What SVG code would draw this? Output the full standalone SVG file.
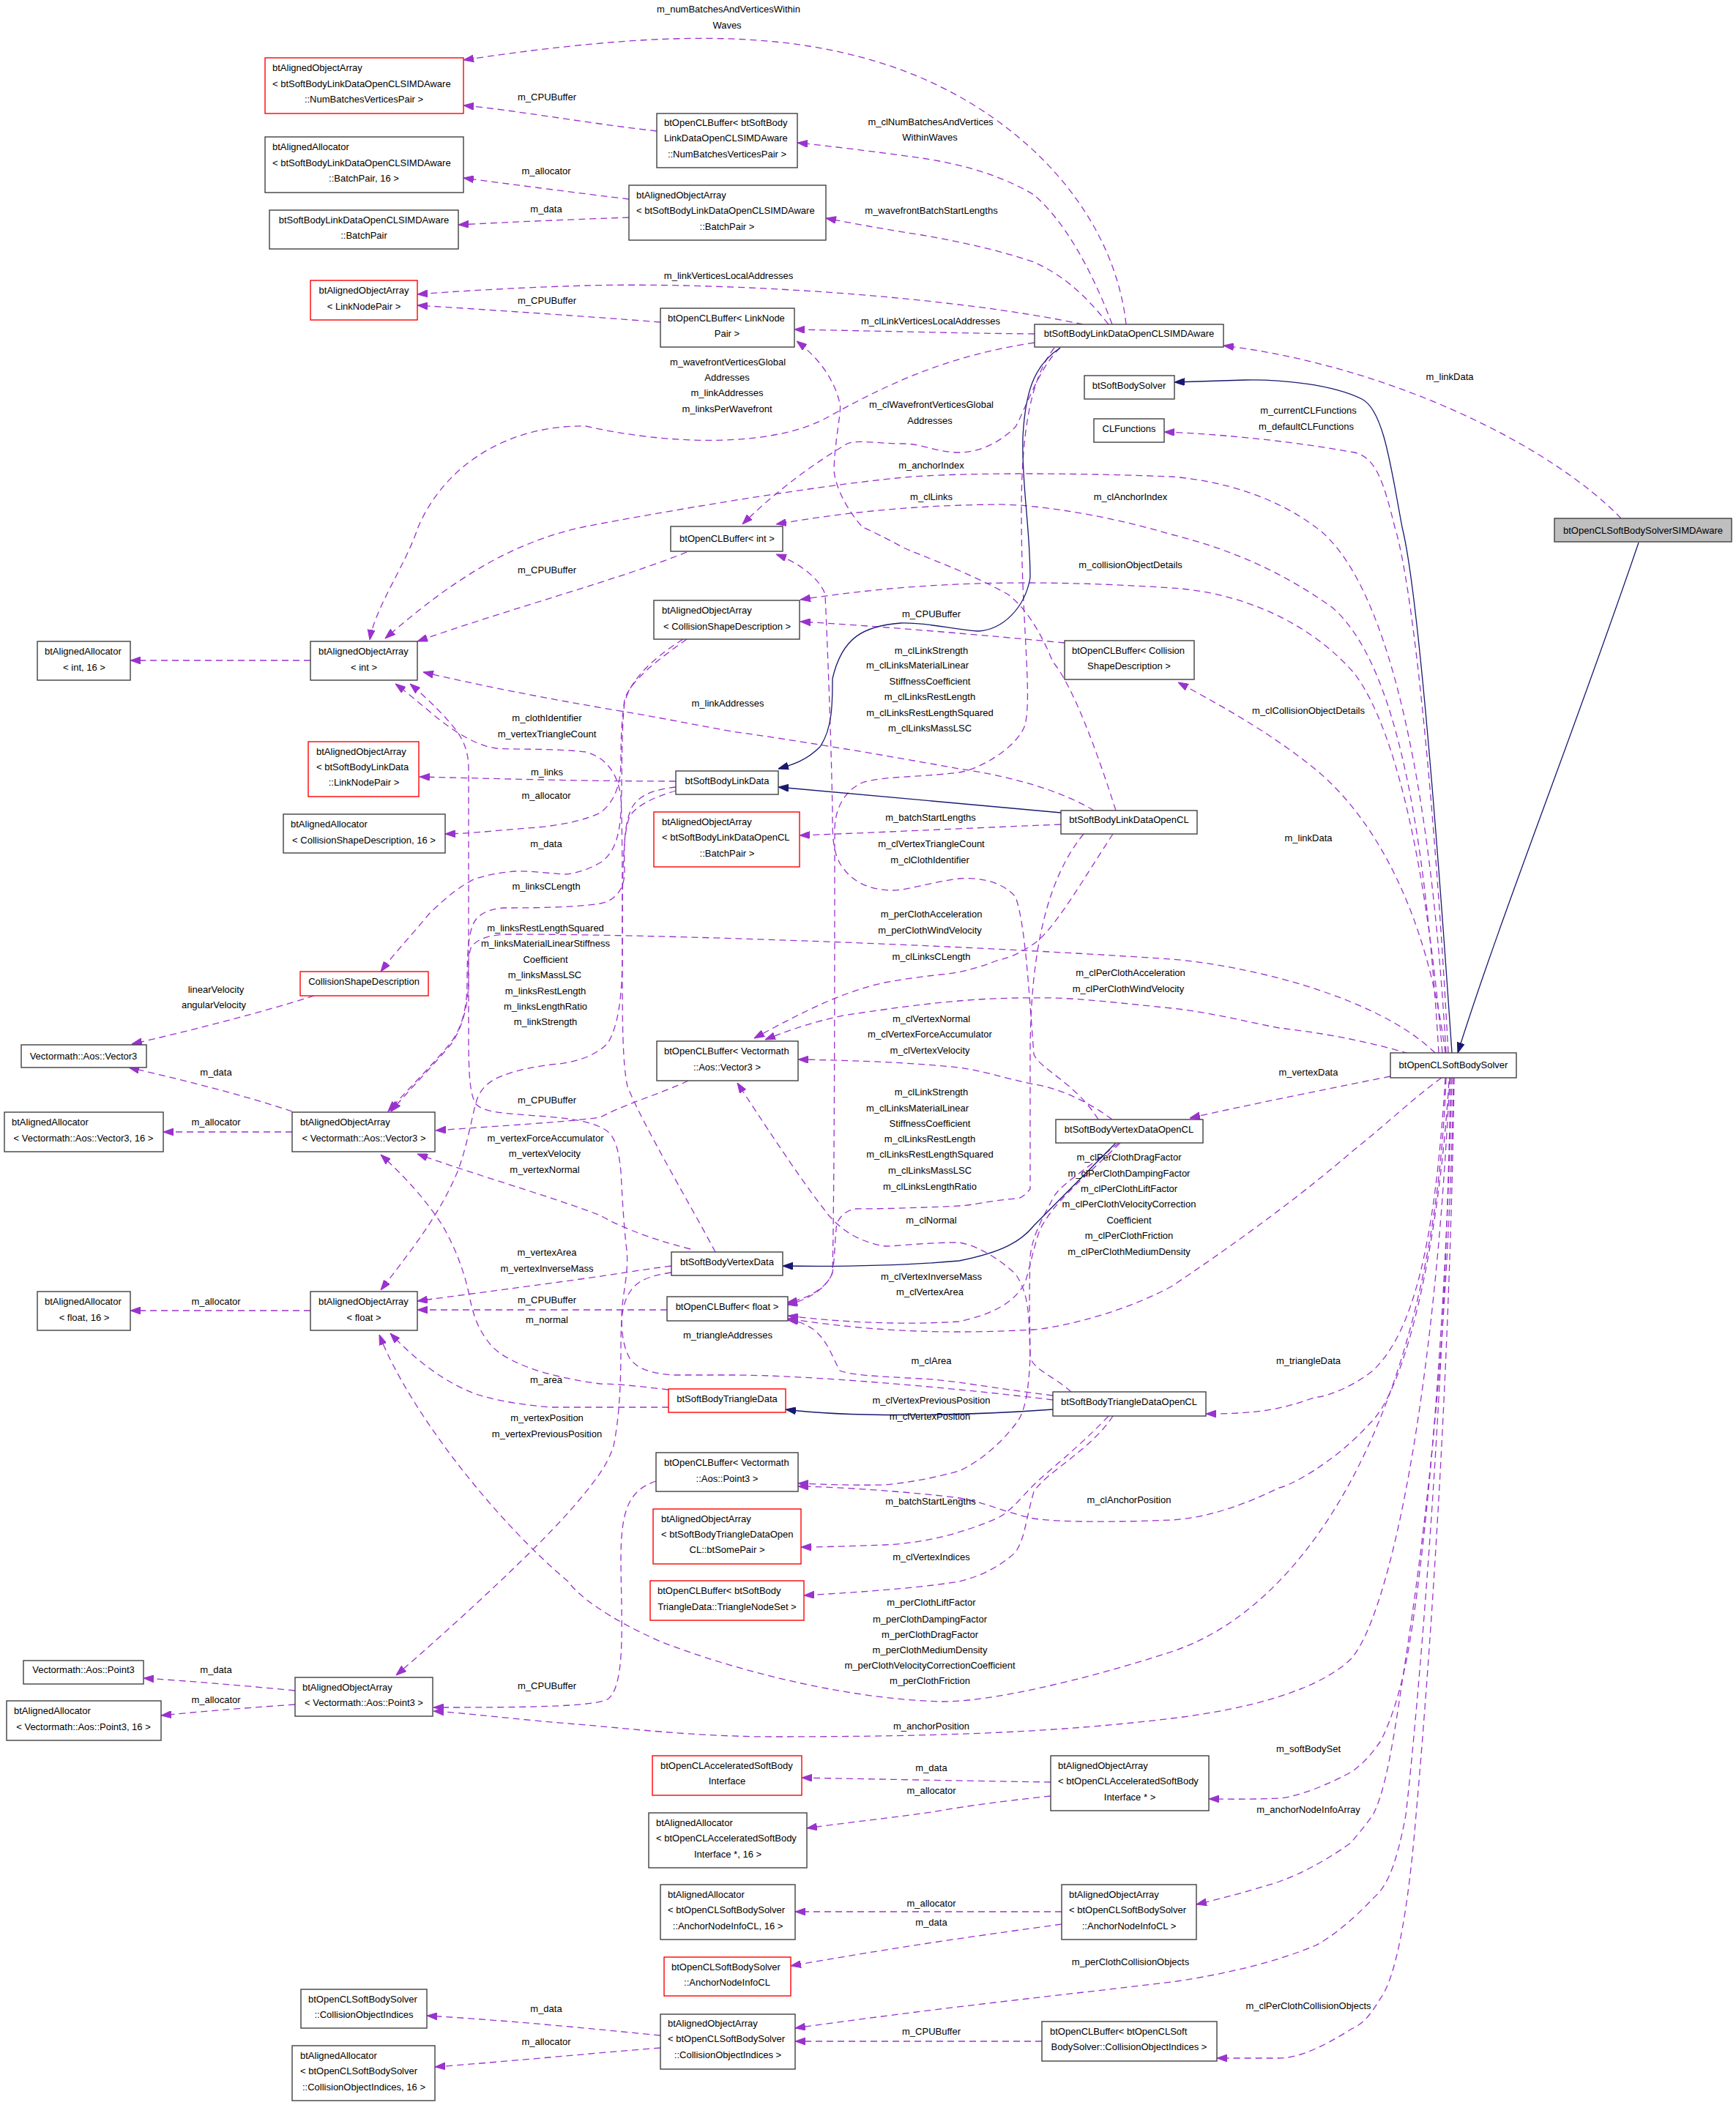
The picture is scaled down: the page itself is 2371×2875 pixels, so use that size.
<svg xmlns="http://www.w3.org/2000/svg" width="2371" height="2875" viewBox="0 0 2371 2875">
<defs>
<marker id="ap" viewBox="0 0 14 10" refX="14" refY="5" markerWidth="14" markerHeight="10" markerUnits="userSpaceOnUse" orient="auto"><path d="M0,0 L14,5 L0,10 z" fill="#9a32cd" stroke="#9a32cd"/></marker>
<marker id="ab" viewBox="0 0 14 10" refX="14" refY="5" markerWidth="14" markerHeight="10" markerUnits="userSpaceOnUse" orient="auto"><path d="M0,0 L14,5 L0,10 z" fill="#191970" stroke="#191970"/></marker>
</defs>
<style>
text{font-family:"Liberation Sans",Arial,sans-serif;font-size:13px;fill:#000}
.c{text-anchor:middle}
.s{text-anchor:start}
rect{fill:#fff;stroke:#404040;stroke-width:1.4}
rect.r{stroke:#ff0000}
rect.g{fill:#bfbfbf}
.e{fill:none;stroke:#9a32cd;stroke-width:1.3;stroke-dasharray:9,6;marker-end:url(#ap)}
.i{fill:none;stroke:#191970;stroke-width:1.3;marker-end:url(#ab)}
</style>
<rect x="0" y="0" width="2371" height="2875" style="fill:#fff;stroke:none"/>
<g id="connectors">
<path class="e" d="M2214,708 C2120,610 1900,500 1671,472"/>
<path class="e" d="M897,179 C800,168 700,150 633,144"/>
<path class="e" d="M1538,443 C1520,280 1380,140 1200,85 C1060,42 900,42 633,82"/>
<path class="e" d="M859,272 C800,265 700,252 633,243"/>
<path class="e" d="M859,297 C800,299 700,303 626,307"/>
<path class="e" d="M1479,443 C1300,405 1000,385 800,390 C700,393 620,398 570,402"/>
<path class="e" d="M902,440 C800,432 680,424 570,417"/>
<path class="e" d="M1413,468 C1300,485 1220,520 1132,569 C1050,615 900,605 800,582 C700,580 610,630 571,720 C555,770 512,830 505,874"/>
<path class="e" d="M938,754 C850,790 700,830 570,876"/>
<path class="e" d="M1975,1438 C1950,1000 1880,780 1797,720 C1730,670 1650,655 1600,651 C1450,645 1300,646 1234,652 C1100,665 900,700 800,719 C700,740 620,790 526,872"/>
<path class="e" d="M1494,1107 C1450,1080 1380,1060 1310,1050 C1200,1030 1080,1010 1000,999 C950,990 900,980 853,972 C750,955 650,935 578,918"/>
<path class="e" d="M977,1710 C940,1640 880,1540 857,1484 C850,1450 850,1400 850,1300 C850,1200 850,1120 848,1090 C845,1060 830,1035 800,1027 C760,1022 700,1024 677,1022 C650,1018 620,1000 587,972 C570,958 555,945 540,934"/>
<path class="e" d="M1438,1912 C1300,1895 1100,1878 1000,1878 L920,1878 C890,1876 870,1870 860,1855 C848,1835 848,1800 850,1783 C852,1760 860,1730 855,1700 C852,1670 850,1640 848,1600 C845,1570 840,1550 825,1542 C800,1528 760,1526 720,1523 C680,1520 660,1518 650,1508 C642,1495 640,1470 640,1416 L640,1050 C640,1030 635,1015 625,1000 C610,980 585,955 560,934"/>
<path class="e" d="M917,1738 C890,1742 870,1748 860,1765 C850,1780 848,1800 848,1840 C848,1900 845,1940 838,1975 C830,2000 815,2020 790,2050 C740,2110 620,2220 541,2288"/>
<path class="e" d="M923,1067 C800,1067 700,1064 573,1061"/>
<path class="e" d="M938,873 C900,900 860,930 853,956 C848,990 848,1020 848,1040 C848,1070 840,1095 820,1110 C790,1125 740,1130 720,1131 C680,1134 650,1138 608,1139"/>
<path class="e" d="M933,873 C890,900 860,930 853,960 C848,1000 850,1080 848,1110 C846,1140 840,1165 820,1178 C800,1190 780,1194 770,1194 C740,1192 720,1189 703,1190 C680,1192 665,1195 647,1201 C620,1215 600,1235 587,1247 C560,1280 540,1300 520,1327"/>
<path class="e" d="M923,1075 C895,1078 875,1085 865,1100 C852,1120 852,1160 853,1190 C853,1215 840,1230 820,1234 C780,1240 720,1240 687,1240 C665,1242 650,1250 645,1265 C640,1280 638,1300 638,1340 C638,1380 630,1405 615,1425 C590,1455 560,1485 530,1518"/>
<path class="e" d="M1960,1438 C1880,1360 1700,1318 1600,1310 C1300,1290 900,1276 700,1276 C670,1276 650,1282 643,1295 C638,1310 640,1330 640,1345 C638,1380 630,1405 617,1425 C592,1455 562,1485 534,1518"/>
<path class="e" d="M923,1080 C890,1090 870,1100 860,1115 C850,1140 850,1200 850,1300 C850,1360 845,1400 830,1425 C810,1445 780,1452 753,1454 C720,1458 700,1464 687,1469 C670,1475 658,1485 652,1500 C645,1520 640,1560 625,1600 C600,1660 560,1710 520,1762"/>
<path class="e" d="M429,1360 C350,1385 250,1410 180,1426"/>
<path class="e" d="M399,1518 C330,1495 250,1475 176,1458"/>
<path class="e" d="M399,1546 L223,1546"/>
<path class="e" d="M424,1790 L178,1790"/>
<path class="e" d="M424,902 L178,902"/>
<path class="e" d="M403,2309 C330,2302 260,2296 196,2292"/>
<path class="e" d="M403,2328 C330,2333 270,2338 220,2343"/>
<path class="e" d="M940,1476 C900,1495 860,1505 820,1526 C780,1532 680,1538 595,1544"/>
<path class="e" d="M943,1706 C880,1690 840,1672 820,1660 C740,1630 650,1605 570,1576"/>
<path class="e" d="M913,1898 C870,1893 840,1890 820,1890 C780,1885 740,1875 720,1867 C690,1855 675,1845 665,1830 C650,1810 645,1790 640,1765 C630,1720 610,1680 595,1660 C570,1625 545,1600 520,1577"/>
<path class="e" d="M917,1729 C870,1735 830,1742 800,1746 C700,1760 620,1770 570,1777"/>
<path class="e" d="M911,1789 L570,1789"/>
<path class="e" d="M913,1922 C870,1922 800,1922 753,1922 C700,1918 670,1910 653,1905 C610,1890 570,1860 533,1821"/>
<path class="e" d="M1975,1472 C1960,1900 1800,2190 1600,2256 C1480,2295 1350,2325 1285,2324 C1150,2320 1000,2280 902,2242 C830,2210 790,2180 776,2160 C680,2080 560,1930 518,1823"/>
<path class="e" d="M1980,1472 C1960,1900 1900,2200 1846,2265 C1800,2310 1700,2335 1600,2347 C1450,2365 1300,2372 1055,2372 C950,2372 850,2360 800,2356 C700,2348 640,2340 592,2337"/>
<path class="e" d="M896,2023 C860,2035 848,2060 848,2129 C848,2200 856,2300 831,2320 C815,2332 700,2332 592,2332"/>
<path class="e" d="M1970,1438 C1950,1200 1910,1000 1850,920 C1780,840 1680,808 1600,803 C1400,790 1250,795 1093,819"/>
<path class="e" d="M1454,878 C1350,868 1200,855 1093,849"/>
<path class="e" d="M1974,1438 C1950,1250 1880,1120 1797,1051 C1740,1005 1680,970 1609,932"/>
<path class="e" d="M1965,1438 C1945,1100 1900,900 1820,830 C1750,780 1680,750 1600,730 C1500,700 1400,688 1361,689 C1250,690 1150,700 1060,716"/>
<path class="e" d="M1978,1438 C1960,1100 1930,800 1905,720 C1890,660 1880,625 1850,618 C1750,600 1650,592 1590,590"/>
<path class="e" d="M1449,1126 C1300,1132 1200,1137 1092,1141"/>
<path class="e" d="M1519,443 C1480,340 1440,290 1412,266 C1360,235 1300,222 1259,216 C1200,208 1140,200 1089,195"/>
<path class="e" d="M1514,443 C1480,400 1450,375 1412,358 C1360,340 1300,328 1259,321 C1200,312 1160,304 1128,298"/>
<path class="e" d="M1413,456 C1300,455 1200,452 1085,450"/>
<path class="e" d="M1448,475 C1420,500 1400,560 1387,583 C1360,610 1330,618 1310,618 C1280,618 1260,606 1234,606 C1200,606 1170,600 1157,606 C1100,640 1050,680 1014,716"/>
<path class="e" d="M1524,1107 C1490,1000 1460,930 1438,904 C1420,860 1400,830 1377,812 C1320,780 1260,760 1234,748 C1210,735 1190,725 1178,720 C1160,700 1142,670 1139,643 C1140,600 1150,560 1147,551 C1140,520 1120,490 1088,466"/>
<path class="e" d="M1440,475 C1405,520 1395,600 1395,700 C1395,850 1410,950 1400,990 C1390,1020 1340,1050 1310,1055 C1250,1062 1210,1060 1180,1068 C1150,1080 1140,1110 1140,1133 C1140,1300 1140,1600 1137,1738 C1130,1760 1100,1775 1075,1779"/>
<path class="e" d="M1500,1529 C1470,1480 1420,1460 1412,1440 C1405,1350 1400,1260 1387,1225 C1370,1205 1340,1198 1310,1200 C1270,1205 1240,1216 1218,1216 C1180,1215 1160,1200 1147,1179 C1137,1160 1137,1140 1137,1110 C1135,1000 1130,880 1127,812 C1120,790 1090,768 1060,757"/>
<path class="e" d="M1520,1139 C1480,1200 1440,1270 1412,1289 C1390,1305 1370,1310 1361,1312 C1330,1325 1300,1330 1285,1331 C1250,1335 1230,1338 1208,1342 C1150,1355 1100,1380 1030,1418"/>
<path class="e" d="M1924,1439 C1860,1420 1800,1410 1747,1404 C1700,1395 1650,1382 1600,1377 C1530,1370 1480,1364 1438,1363 C1380,1362 1330,1365 1310,1367 C1250,1372 1200,1380 1157,1386 C1110,1395 1070,1410 1045,1420"/>
<path class="e" d="M1519,1529 C1480,1500 1440,1485 1412,1481 C1370,1472 1340,1462 1310,1458 C1230,1450 1150,1448 1090,1447"/>
<path class="e" d="M1480,1139 C1430,1200 1407,1300 1407,1440 C1407,1550 1407,1600 1407,1624 C1400,1632 1395,1637 1387,1637 C1350,1640 1330,1646 1310,1647 C1250,1650 1200,1651 1167,1651 C1150,1655 1142,1668 1142,1679 C1140,1700 1140,1720 1137,1738 C1130,1760 1100,1777 1075,1782"/>
<path class="e" d="M1530,1561 C1480,1610 1440,1640 1420,1680 C1410,1710 1407,1730 1400,1752 C1380,1790 1330,1800 1310,1805 C1200,1812 1100,1800 1076,1797"/>
<path class="e" d="M1969,1472 C1930,1500 1900,1530 1850,1570 C1780,1630 1700,1690 1600,1757 C1520,1800 1430,1815 1412,1816 C1300,1822 1200,1820 1076,1801"/>
<path class="e" d="M1463,1901 C1440,1880 1410,1870 1407,1853 C1405,1800 1407,1770 1387,1740 C1360,1715 1330,1700 1310,1697 C1260,1697 1230,1702 1208,1702 C1170,1695 1150,1680 1132,1660 C1100,1620 1060,1560 1007,1479"/>
<path class="e" d="M1438,1906 C1350,1895 1300,1885 1259,1883 C1200,1880 1160,1878 1147,1872 C1135,1850 1130,1830 1110,1815 C1095,1805 1085,1804 1076,1803"/>
<path class="e" d="M1514,1934 C1470,1980 1430,2010 1412,2028 C1390,2050 1380,2065 1361,2074 C1300,2100 1250,2108 1208,2110 C1150,2112 1120,2113 1094,2113"/>
<path class="e" d="M1520,1934 C1490,1980 1430,2010 1412,2037 C1400,2080 1400,2100 1387,2120 C1360,2145 1330,2155 1310,2160 C1250,2170 1150,2176 1098,2179"/>
<path class="e" d="M1528,1561 C1480,1600 1445,1620 1438,1637 C1420,1670 1410,1690 1407,1716 C1405,1780 1407,1820 1407,1853 C1405,1900 1400,1930 1387,1945 C1360,1980 1330,2000 1310,2009 C1270,2020 1240,2025 1208,2028 C1160,2029 1120,2027 1090,2026"/>
<path class="e" d="M1979,1477 C1965,1700 1920,1900 1870,1945 C1820,2000 1760,2030 1747,2032 C1700,2055 1650,2073 1600,2076 C1500,2080 1440,2078 1412,2074 C1370,2065 1340,2050 1310,2046 C1250,2038 1150,2031 1090,2030"/>
<path class="e" d="M1974,1472 C1960,1700 1930,1820 1875,1872 C1840,1900 1800,1910 1797,1908 C1750,1925 1720,1931 1647,1931"/>
<path class="e" d="M1899,1470 C1800,1490 1700,1510 1625,1527"/>
<path class="e" d="M1983,1472 C1975,1800 1950,2100 1924,2251 C1910,2330 1890,2370 1885,2379 C1870,2400 1860,2410 1846,2420 C1800,2445 1760,2456 1747,2456 C1700,2458 1680,2457 1651,2457"/>
<path class="e" d="M1985,1472 C1978,1900 1930,2200 1915,2297 C1900,2400 1890,2450 1875,2479 C1860,2500 1850,2510 1846,2516 C1800,2550 1760,2565 1747,2570 C1700,2585 1660,2595 1634,2601"/>
<path class="e" d="M1981,1472 C1975,1900 1935,2350 1920,2479 C1905,2560 1890,2580 1875,2593 C1850,2620 1820,2645 1797,2657 C1730,2685 1650,2700 1600,2707 C1450,2725 1300,2740 1086,2770"/>
<path class="e" d="M1986,1472 C1980,1900 1950,2300 1934,2479 C1920,2650 1900,2710 1885,2730 C1870,2755 1860,2765 1846,2771 C1800,2800 1770,2811 1747,2811 L1662,2811"/>
<path class="e" d="M1435,2434 C1300,2432 1200,2430 1095,2428"/>
<path class="e" d="M1435,2453 C1350,2462 1300,2470 1272,2475 C1200,2485 1150,2490 1102,2497"/>
<path class="e" d="M1450,2611 L1086,2611"/>
<path class="e" d="M1450,2628 C1350,2642 1250,2655 1080,2685"/>
<path class="e" d="M902,2780 C800,2770 700,2760 583,2753"/>
<path class="e" d="M902,2797 C800,2805 700,2815 594,2823"/>
<path class="e" d="M1423,2788 L1086,2788"/>
<path class="i" d="M2238,741 C2150,1000 2050,1250 1991,1438"/>
<path class="i" d="M1983,1438 C1960,1100 1935,800 1915,720 C1900,640 1890,560 1860,545 C1820,525 1750,518 1700,519 C1660,520 1630,521 1604,522"/>
<path class="i" d="M1448,475 C1410,500 1400,540 1397,597 C1395,660 1407,720 1407,789 C1400,830 1370,860 1336,862 C1300,860 1270,850 1230,851 C1180,855 1150,870 1137,927 C1137,960 1137,995 1120,1020 C1100,1040 1080,1045 1063,1050"/>
<path class="i" d="M1449,1110 L1063,1075"/>
<path class="i" d="M1524,1561 L1412,1674 C1395,1695 1370,1710 1310,1722 C1220,1730 1140,1730 1069,1729"/>
<path class="i" d="M1438,1925 C1300,1935 1150,1935 1073,1925"/>
</g>
<g id="labels">
<text class="c" x="995" y="17">m_numBatchesAndVerticesWithin</text>
<text class="c" x="993" y="39">Waves</text>
<text class="c" x="747" y="137">m_CPUBuffer</text>
<text class="c" x="1271" y="171">m_clNumBatchesAndVertices</text>
<text class="c" x="1270" y="192">WithinWaves</text>
<text class="c" x="746" y="238">m_allocator</text>
<text class="c" x="746" y="290">m_data</text>
<text class="c" x="1272" y="292">m_wavefrontBatchStartLengths</text>
<text class="c" x="995" y="381">m_linkVerticesLocalAddresses</text>
<text class="c" x="747" y="415">m_CPUBuffer</text>
<text class="c" x="1271" y="443">m_clLinkVerticesLocalAddresses</text>
<text class="c" x="994" y="499">m_wavefrontVerticesGlobal</text>
<text class="c" x="993" y="520">Addresses</text>
<text class="c" x="993" y="541">m_linkAddresses</text>
<text class="c" x="993" y="563">m_linksPerWavefront</text>
<text class="c" x="1980" y="519">m_linkData</text>
<text class="c" x="1272" y="557">m_clWavefrontVerticesGlobal</text>
<text class="c" x="1270" y="579">Addresses</text>
<text class="c" x="1787" y="565">m_currentCLFunctions</text>
<text class="c" x="1784" y="587">m_defaultCLFunctions</text>
<text class="c" x="1272" y="640">m_anchorIndex</text>
<text class="c" x="1272" y="683">m_clLinks</text>
<text class="c" x="1544" y="683">m_clAnchorIndex</text>
<text class="c" x="1544" y="776">m_collisionObjectDetails</text>
<text class="c" x="747" y="783">m_CPUBuffer</text>
<text class="c" x="1272" y="843">m_CPUBuffer</text>
<text class="c" x="1272" y="893">m_clLinkStrength</text>
<text class="c" x="1253" y="913">m_clLinksMaterialLinear</text>
<text class="c" x="1270" y="935">StiffnessCoefficient</text>
<text class="c" x="1270" y="956">m_clLinksRestLength</text>
<text class="c" x="1270" y="978">m_clLinksRestLengthSquared</text>
<text class="c" x="1270" y="999">m_clLinksMassLSC</text>
<text class="c" x="994" y="965">m_linkAddresses</text>
<text class="c" x="1787" y="975">m_clCollisionObjectDetails</text>
<text class="c" x="747" y="985">m_clothIdentifier</text>
<text class="c" x="747" y="1007">m_vertexTriangleCount</text>
<text class="c" x="747" y="1059">m_links</text>
<text class="c" x="746" y="1091">m_allocator</text>
<text class="c" x="1271" y="1121">m_batchStartLengths</text>
<text class="c" x="1787" y="1149">m_linkData</text>
<text class="c" x="746" y="1157">m_data</text>
<text class="c" x="1272" y="1157">m_clVertexTriangleCount</text>
<text class="c" x="1270" y="1179">m_clClothIdentifier</text>
<text class="c" x="746" y="1215">m_linksCLength</text>
<text class="c" x="1272" y="1253">m_perClothAcceleration</text>
<text class="c" x="1270" y="1275">m_perClothWindVelocity</text>
<text class="c" x="745" y="1272">m_linksRestLengthSquared</text>
<text class="c" x="745" y="1293">m_linksMaterialLinearStiffness</text>
<text class="c" x="745" y="1315">Coefficient</text>
<text class="c" x="744" y="1336">m_linksMassLSC</text>
<text class="c" x="745" y="1358">m_linksRestLength</text>
<text class="c" x="745" y="1379">m_linksLengthRatio</text>
<text class="c" x="745" y="1400">m_linkStrength</text>
<text class="c" x="1272" y="1311">m_clLinksCLength</text>
<text class="c" x="1544" y="1333">m_clPerClothAcceleration</text>
<text class="c" x="1541" y="1355">m_clPerClothWindVelocity</text>
<text class="c" x="295" y="1356">linearVelocity</text>
<text class="c" x="292" y="1377">angularVelocity</text>
<text class="c" x="1272" y="1396">m_clVertexNormal</text>
<text class="c" x="1270" y="1417">m_clVertexForceAccumulator</text>
<text class="c" x="1270" y="1439">m_clVertexVelocity</text>
<text class="c" x="295" y="1469">m_data</text>
<text class="c" x="1787" y="1469">m_vertexData</text>
<text class="c" x="1272" y="1496">m_clLinkStrength</text>
<text class="c" x="1253" y="1518">m_clLinksMaterialLinear</text>
<text class="c" x="1270" y="1539">StiffnessCoefficient</text>
<text class="c" x="1270" y="1560">m_clLinksRestLength</text>
<text class="c" x="1270" y="1581">m_clLinksRestLengthSquared</text>
<text class="c" x="1270" y="1603">m_clLinksMassLSC</text>
<text class="c" x="1270" y="1625">m_clLinksLengthRatio</text>
<text class="c" x="747" y="1507">m_CPUBuffer</text>
<text class="c" x="295" y="1537">m_allocator</text>
<text class="c" x="745" y="1559">m_vertexForceAccumulator</text>
<text class="c" x="744" y="1580">m_vertexVelocity</text>
<text class="c" x="744" y="1602">m_vertexNormal</text>
<text class="c" x="1542" y="1585">m_clPerClothDragFactor</text>
<text class="c" x="1542" y="1607">m_clPerClothDampingFactor</text>
<text class="c" x="1542" y="1628">m_clPerClothLiftFactor</text>
<text class="c" x="1542" y="1649">m_clPerClothVelocityCorrection</text>
<text class="c" x="1542" y="1671">Coefficient</text>
<text class="c" x="1542" y="1692">m_clPerClothFriction</text>
<text class="c" x="1542" y="1714">m_clPerClothMediumDensity</text>
<text class="c" x="1272" y="1671">m_clNormal</text>
<text class="c" x="747" y="1715">m_vertexArea</text>
<text class="c" x="747" y="1737">m_vertexInverseMass</text>
<text class="c" x="1272" y="1748">m_clVertexInverseMass</text>
<text class="c" x="1270" y="1769">m_clVertexArea</text>
<text class="c" x="747" y="1780">m_CPUBuffer</text>
<text class="c" x="295" y="1782">m_allocator</text>
<text class="c" x="747" y="1807">m_normal</text>
<text class="c" x="994" y="1828">m_triangleAddresses</text>
<text class="c" x="1272" y="1863">m_clArea</text>
<text class="c" x="1787" y="1863">m_triangleData</text>
<text class="c" x="746" y="1889">m_area</text>
<text class="c" x="1272" y="1917">m_clVertexPreviousPosition</text>
<text class="c" x="1270" y="1939">m_clVertexPosition</text>
<text class="c" x="747" y="1941">m_vertexPosition</text>
<text class="c" x="747" y="1963">m_vertexPreviousPosition</text>
<text class="c" x="1542" y="2053">m_clAnchorPosition</text>
<text class="c" x="1271" y="2055">m_batchStartLengths</text>
<text class="c" x="1272" y="2131">m_clVertexIndices</text>
<text class="c" x="1272" y="2193">m_perClothLiftFactor</text>
<text class="c" x="1270" y="2216">m_perClothDampingFactor</text>
<text class="c" x="1270" y="2237">m_perClothDragFactor</text>
<text class="c" x="1270" y="2258">m_perClothMediumDensity</text>
<text class="c" x="1270" y="2279">m_perClothVelocityCorrectionCoefficient</text>
<text class="c" x="1270" y="2300">m_perClothFriction</text>
<text class="c" x="295" y="2285">m_data</text>
<text class="c" x="747" y="2307">m_CPUBuffer</text>
<text class="c" x="295" y="2326">m_allocator</text>
<text class="c" x="1272" y="2362">m_anchorPosition</text>
<text class="c" x="1787" y="2393">m_softBodySet</text>
<text class="c" x="1272" y="2419">m_data</text>
<text class="c" x="1272" y="2450">m_allocator</text>
<text class="c" x="1787" y="2476">m_anchorNodeInfoArray</text>
<text class="c" x="1272" y="2604">m_allocator</text>
<text class="c" x="1272" y="2630">m_data</text>
<text class="c" x="1544" y="2684">m_perClothCollisionObjects</text>
<text class="c" x="1787" y="2744">m_clPerClothCollisionObjects</text>
<text class="c" x="746" y="2748">m_data</text>
<text class="c" x="1272" y="2779">m_CPUBuffer</text>
<text class="c" x="746" y="2793">m_allocator</text>
</g>
<g id="n1"><rect class="r" x="362" y="79" width="271" height="76"/><text class="s" x="372" y="97">btAlignedObjectArray</text><text class="s" x="372" y="119">&lt; btSoftBodyLinkDataOpenCLSIMDAware</text><text class="c" x="497" y="140">::NumBatchesVerticesPair &gt;</text></g>
<g id="n2"><rect x="362" y="187" width="271" height="76"/><text class="s" x="372" y="205">btAlignedAllocator</text><text class="s" x="372" y="227">&lt; btSoftBodyLinkDataOpenCLSIMDAware</text><text class="c" x="497" y="248">::BatchPair, 16 &gt;</text></g>
<g id="n3"><rect x="368" y="287" width="258" height="53"/><text class="c" x="497" y="305">btSoftBodyLinkDataOpenCLSIMDAware</text><text class="c" x="497" y="326">::BatchPair</text></g>
<g id="n4"><rect class="r" x="424" y="383" width="146" height="54"/><text class="c" x="497" y="401">btAlignedObjectArray</text><text class="c" x="497" y="423">&lt; LinkNodePair &gt;</text></g>
<g id="n5"><rect x="897" y="155" width="192" height="74"/><text class="s" x="907" y="172">btOpenCLBuffer&lt; btSoftBody</text><text class="s" x="907" y="193">LinkDataOpenCLSIMDAware</text><text class="c" x="993" y="215">::NumBatchesVerticesPair &gt;</text></g>
<g id="n6"><rect x="859" y="253" width="269" height="75"/><text class="s" x="869" y="271">btAlignedObjectArray</text><text class="s" x="869" y="292">&lt; btSoftBodyLinkDataOpenCLSIMDAware</text><text class="c" x="993" y="314">::BatchPair &gt;</text></g>
<g id="n7"><rect x="902" y="421" width="183" height="53"/><text class="s" x="912" y="439">btOpenCLBuffer&lt; LinkNode</text><text class="c" x="993" y="460">Pair &gt;</text></g>
<g id="n8"><rect x="1413" y="443" width="258" height="31"/><text class="c" x="1542" y="460">btSoftBodyLinkDataOpenCLSIMDAware</text></g>
<g id="n9"><rect x="1481" y="513" width="123" height="32"/><text class="c" x="1542" y="531">btSoftBodySolver</text></g>
<g id="n10"><rect x="1494" y="572" width="96" height="32"/><text class="c" x="1542" y="590">CLFunctions</text></g>
<g id="n11"><rect class="g" x="2123" y="708" width="242" height="32"/><text class="c" x="2244" y="729">btOpenCLSoftBodySolverSIMDAware</text></g>
<g id="n12"><rect x="51" y="876" width="127" height="53"/><text class="s" x="61" y="894">btAlignedAllocator</text><text class="c" x="115" y="916">&lt; int, 16 &gt;</text></g>
<g id="n13"><rect x="424" y="876" width="146" height="53"/><text class="s" x="435" y="894">btAlignedObjectArray</text><text class="c" x="497" y="916">&lt; int &gt;</text></g>
<g id="n14"><rect class="r" x="421" y="1013" width="151" height="75"/><text class="s" x="432" y="1031">btAlignedObjectArray</text><text class="s" x="432" y="1052">&lt; btSoftBodyLinkData</text><text class="c" x="497" y="1073">::LinkNodePair &gt;</text></g>
<g id="n15"><rect x="387" y="1112" width="221" height="53"/><text class="s" x="397" y="1130">btAlignedAllocator</text><text class="c" x="497" y="1152">&lt; CollisionShapeDescription, 16 &gt;</text></g>
<g id="n16"><rect class="r" x="410" y="1327" width="175" height="33"/><text class="c" x="497" y="1345">CollisionShapeDescription</text></g>
<g id="n17"><rect x="29" y="1427" width="171" height="31"/><text class="c" x="114" y="1447">Vectormath::Aos::Vector3</text></g>
<g id="n18"><rect x="6" y="1519" width="217" height="54"/><text class="s" x="16" y="1537">btAlignedAllocator</text><text class="c" x="114" y="1559">&lt; Vectormath::Aos::Vector3, 16 &gt;</text></g>
<g id="n19"><rect x="399" y="1519" width="195" height="54"/><text class="s" x="410" y="1537">btAlignedObjectArray</text><text class="c" x="497" y="1559">&lt; Vectormath::Aos::Vector3 &gt;</text></g>
<g id="n20"><rect x="51" y="1764" width="127" height="53"/><text class="s" x="61" y="1782">btAlignedAllocator</text><text class="c" x="115" y="1804">&lt; float, 16 &gt;</text></g>
<g id="n21"><rect x="424" y="1764" width="146" height="53"/><text class="s" x="435" y="1782">btAlignedObjectArray</text><text class="c" x="497" y="1804">&lt; float &gt;</text></g>
<g id="n22"><rect x="916" y="719" width="153" height="34"/><text class="c" x="993" y="740">btOpenCLBuffer&lt; int &gt;</text></g>
<g id="n23"><rect x="893" y="820" width="199" height="53"/><text class="s" x="904" y="838">btAlignedObjectArray</text><text class="c" x="993" y="860">&lt; CollisionShapeDescription &gt;</text></g>
<g id="n24"><rect x="1454" y="875" width="177" height="53"/><text class="s" x="1464" y="893">btOpenCLBuffer&lt; Collision</text><text class="c" x="1542" y="914">ShapeDescription &gt;</text></g>
<g id="n25"><rect x="923" y="1053" width="140" height="32"/><text class="c" x="993" y="1071">btSoftBodyLinkData</text></g>
<g id="n26"><rect class="r" x="893" y="1109" width="199" height="75"/><text class="s" x="904" y="1127">btAlignedObjectArray</text><text class="s" x="904" y="1148">&lt; btSoftBodyLinkDataOpenCL</text><text class="c" x="993" y="1170">::BatchPair &gt;</text></g>
<g id="n27"><rect x="1449" y="1107" width="186" height="32"/><text class="c" x="1542" y="1124">btSoftBodyLinkDataOpenCL</text></g>
<g id="n28"><rect x="897" y="1422" width="193" height="54"/><text class="s" x="907" y="1440">btOpenCLBuffer&lt; Vectormath</text><text class="c" x="993" y="1462">::Aos::Vector3 &gt;</text></g>
<g id="n29"><rect x="1899" y="1438" width="172" height="34"/><text class="c" x="1985" y="1459">btOpenCLSoftBodySolver</text></g>
<g id="n30"><rect x="1442" y="1529" width="201" height="32"/><text class="c" x="1542" y="1547">btSoftBodyVertexDataOpenCL</text></g>
<g id="n31"><rect x="917" y="1710" width="152" height="32"/><text class="c" x="993" y="1728">btSoftBodyVertexData</text></g>
<g id="n32"><rect x="911" y="1771" width="165" height="33"/><text class="c" x="993" y="1789">btOpenCLBuffer&lt; float &gt;</text></g>
<g id="n33"><rect class="r" x="913" y="1897" width="160" height="32"/><text class="c" x="993" y="1915">btSoftBodyTriangleData</text></g>
<g id="n34"><rect x="1438" y="1901" width="209" height="33"/><text class="c" x="1542" y="1919">btSoftBodyTriangleDataOpenCL</text></g>
<g id="n35"><rect x="896" y="1984" width="194" height="53"/><text class="s" x="907" y="2002">btOpenCLBuffer&lt; Vectormath</text><text class="c" x="993" y="2024">::Aos::Point3 &gt;</text></g>
<g id="n36"><rect class="r" x="892" y="2061" width="202" height="75"/><text class="s" x="903" y="2079">btAlignedObjectArray</text><text class="s" x="903" y="2100">&lt; btSoftBodyTriangleDataOpen</text><text class="c" x="993" y="2121">CL::btSomePair &gt;</text></g>
<g id="n37"><rect x="32" y="2268" width="164" height="32"/><text class="c" x="114" y="2285">Vectormath::Aos::Point3</text></g>
<g id="n38"><rect x="9" y="2323" width="211" height="54"/><text class="s" x="19" y="2341">btAlignedAllocator</text><text class="c" x="114" y="2363">&lt; Vectormath::Aos::Point3, 16 &gt;</text></g>
<g id="n39"><rect x="403" y="2291" width="188" height="53"/><text class="s" x="413" y="2309">btAlignedObjectArray</text><text class="c" x="497" y="2330">&lt; Vectormath::Aos::Point3 &gt;</text></g>
<g id="n40"><rect x="411" y="2717" width="172" height="53"/><text class="s" x="421" y="2735">btOpenCLSoftBodySolver</text><text class="c" x="497" y="2756">::CollisionObjectIndices</text></g>
<g id="n41"><rect x="399" y="2794" width="195" height="75"/><text class="s" x="410" y="2812">btAlignedAllocator</text><text class="s" x="410" y="2833">&lt; btOpenCLSoftBodySolver</text><text class="c" x="497" y="2855">::CollisionObjectIndices, 16 &gt;</text></g>
<g id="n42"><rect class="r" x="888" y="2159" width="210" height="54"/><text class="s" x="898" y="2177">btOpenCLBuffer&lt; btSoftBody</text><text class="c" x="993" y="2199">TriangleData::TriangleNodeSet &gt;</text></g>
<g id="n43"><rect class="r" x="891" y="2398" width="204" height="54"/><text class="s" x="902" y="2416">btOpenCLAcceleratedSoftBody</text><text class="c" x="993" y="2437">Interface</text></g>
<g id="n44"><rect x="1435" y="2398" width="216" height="75"/><text class="s" x="1445" y="2416">btAlignedObjectArray</text><text class="s" x="1445" y="2437">&lt; btOpenCLAcceleratedSoftBody</text><text class="c" x="1543" y="2459">Interface * &gt;</text></g>
<g id="n45"><rect x="886" y="2476" width="216" height="75"/><text class="s" x="896" y="2494">btAlignedAllocator</text><text class="s" x="896" y="2515">&lt; btOpenCLAcceleratedSoftBody</text><text class="c" x="994" y="2537">Interface *, 16 &gt;</text></g>
<g id="n46"><rect x="902" y="2574" width="184" height="75"/><text class="s" x="912" y="2592">btAlignedAllocator</text><text class="s" x="912" y="2613">&lt; btOpenCLSoftBodySolver</text><text class="c" x="994" y="2635">::AnchorNodeInfoCL, 16 &gt;</text></g>
<g id="n47"><rect x="1450" y="2574" width="184" height="75"/><text class="s" x="1460" y="2592">btAlignedObjectArray</text><text class="s" x="1460" y="2613">&lt; btOpenCLSoftBodySolver</text><text class="c" x="1542" y="2635">::AnchorNodeInfoCL &gt;</text></g>
<g id="n48"><rect class="r" x="907" y="2673" width="173" height="53"/><text class="s" x="917" y="2691">btOpenCLSoftBodySolver</text><text class="c" x="993" y="2712">::AnchorNodeInfoCL</text></g>
<g id="n49"><rect x="902" y="2751" width="184" height="75"/><text class="s" x="912" y="2768">btAlignedObjectArray</text><text class="s" x="912" y="2789">&lt; btOpenCLSoftBodySolver</text><text class="c" x="994" y="2811">::CollisionObjectIndices &gt;</text></g>
<g id="n50"><rect x="1423" y="2761" width="239" height="54"/><text class="s" x="1434" y="2779">btOpenCLBuffer&lt; btOpenCLSoft</text><text class="c" x="1542" y="2800">BodySolver::CollisionObjectIndices &gt;</text></g>
</svg>
